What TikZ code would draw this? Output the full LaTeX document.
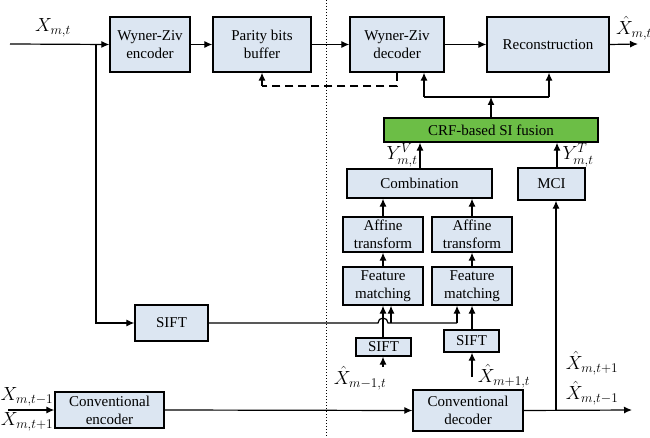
\RequirePackage{fix-cm}
\documentclass[tikz,border=0pt]{standalone}
\usepackage{fontspec}
\setmainfont{Liberation Serif}
\usetikzlibrary{arrows.meta}
\definecolor{boxfill}{RGB}{220,230,242}
\definecolor{crfgreen}{RGB}{108,190,70}
\begin{document}
\begin{tikzpicture}[x=1pt,y=-1pt,
  font=\fontsize{15}{18}\selectfont,
  blk/.style={draw=black,line width=1.3pt,fill=boxfill,align=center,inner sep=0pt},
  ln/.style={line width=1.2pt},
  arr/.style={ln,-{Latex[length=8pt,width=7pt]}},
  lbl/.style={inner sep=0pt,font=\fontsize{19}{19}\selectfont}]
\useasboundingbox (0,0) rectangle (650,438);
% dividing line
\draw[line width=1pt,dotted] (326,0) -- (326,438);
% boxes
\node[blk,minimum width=80,minimum height=55] (wze) at (150,44.5) {Wyner-Ziv\\encoder};
\node[blk,minimum width=98,minimum height=55] (pbb) at (262,44.5) {Parity bits\\buffer};
\node[blk,minimum width=94,minimum height=55] (wzd) at (397,44.5) {Wyner-Ziv\\decoder};
\node[blk,minimum width=122,minimum height=55] (rec) at (548,44.5) {Reconstruction};
\node[blk,fill=crfgreen,minimum width=214,minimum height=24] (crf) at (491,130) {CRF-based SI fusion};
\node[blk,minimum width=145,minimum height=29] (comb) at (419.5,183.5) {Combination};
\node[blk,minimum width=67,minimum height=32] (mci) at (551.5,184) {MCI};
\node[blk,minimum width=80,minimum height=35] (aff1) at (383,234.5) {Affine\\transform};
\node[blk,minimum width=80,minimum height=35] (aff2) at (472,234.5) {Affine\\transform};
\node[blk,minimum width=80,minimum height=38] (fm1) at (383,286) {Feature\\matching};
\node[blk,minimum width=80,minimum height=38] (fm2) at (472,286) {Feature\\matching};
\node[blk,minimum width=73,minimum height=36] (sift) at (171.5,323) {SIFT};
\node[blk,minimum width=55,minimum height=18] (sift1) at (383.5,347) {SIFT};
\node[blk,minimum width=55,minimum height=22] (sift2) at (471.5,341) {SIFT};
\node[blk,minimum width=110,minimum height=41] (cdec) at (468,410.5) {Conventional\\decoder};
\node[blk,minimum width=109,minimum height=36] (cenc) at (109.5,410) {Conventional\\encoder};
% coordinates
\coordinate (in) at (10,44);
\coordinate (br) at (96,44);
\coordinate (brd) at (96,323);
\coordinate (out) at (638,44);
\coordinate (fj) at (491,97);
\coordinate (fl) at (424,97);
\coordinate (fr) at (549,97);
\coordinate (d2) at (262,86);
\coordinate (h1) at (378,323);
\coordinate (h2) at (391,323);
\coordinate (h3) at (457,323);
\coordinate (s1in) at (383,367);
\coordinate (s2in) at (472,377);
\coordinate (ein) at (8,410);
\coordinate (dout) at (632,410);
\coordinate (mb) at (556,410);
% top row
\draw[arr] (in) -- (wze.west);
\draw[arr] (wze) -- (pbb);
\draw[arr] (pbb) -- (wzd);
\draw[arr] (wzd) -- (rec);
\draw[arr] (rec.east) -- (out);
\draw[ln,dash pattern=on 8pt off 5pt] (wzd.south) |- (d2);
\draw[arr,dash pattern=on 8pt off 5pt] (d2) -- (pbb.south -| d2);
% fusion outputs
\draw[arr] (crf.north) -- (fj);
\draw[ln] (fl) -- (fr);
\draw[arr] (fl) -- (wzd.south -| fl);
\draw[arr] (fr) -- (rec.south -| fr);
% into fusion
\draw[arr] (comb.north -| 420,0) -- (crf.south -| 420,0);
\draw[arr] (mci.north -| 557,0) -- (crf.south -| 557,0);
% side information chain
\draw[arr] (aff1) -- (aff1 |- comb.south);
\draw[arr] (aff2) -- (aff2 |- comb.south);
\draw[arr] (fm1) -- (aff1);
\draw[arr] (fm2) -- (aff2);
\draw[arr] (sift1.north -| 383,0) -- (fm1.south -| 383,0);
\draw[arr] (sift2.north -| 472,0) -- (fm2.south -| 472,0);
\draw[arr] (s1in) -- (sift1.south -| s1in);
\draw[arr] (s2in) -- (sift2.south -| s2in);
% SIFT line with hop
\draw[arr] (br) -- (brd) -- (sift.west);
\draw[ln] (sift.east) -- (h1) arc (180:360:5) -- (h3);
\draw[arr] (h3) -- (fm2.south -| h3);
\draw[arr] (h2) -- (fm1.south -| h2);
% conventional path
\draw[arr] (ein) -- (cenc.west);
\draw[arr] (cenc.east) -- (cdec.west);
\draw[arr] (cdec.east) -- (dout);
\draw[arr] (mb) -- (mci.south -| mb);
% labels
\node[lbl] (lxin) at (53,28) {$X_{m,t}$};
\node[lbl] (lxout) at (634,28) {$\hat{X}_{m,t}$};
\node[lbl] (lyv) at (402,155) {$Y^{V}_{m,t}$};
\node[lbl] (lyt) at (578,155) {$Y^{T}_{m,t}$};
\node[lbl] (lm1) at (360,378) {$\hat{X}_{m-1,t}$};
\node[lbl] (lp1) at (504,376) {$\hat{X}_{m+1,t}$};
\node[lbl] (ltp) at (592,363) {$\hat{X}_{m,t+1}$};
\node[lbl] (ltm) at (592,393) {$\hat{X}_{m,t-1}$};
\node[lbl] (lem) at (27,397) {$X_{m,t-1}$};
\node[lbl] (lep) at (27,422) {$X_{m,t+1}$};
\end{tikzpicture}
\end{document}
